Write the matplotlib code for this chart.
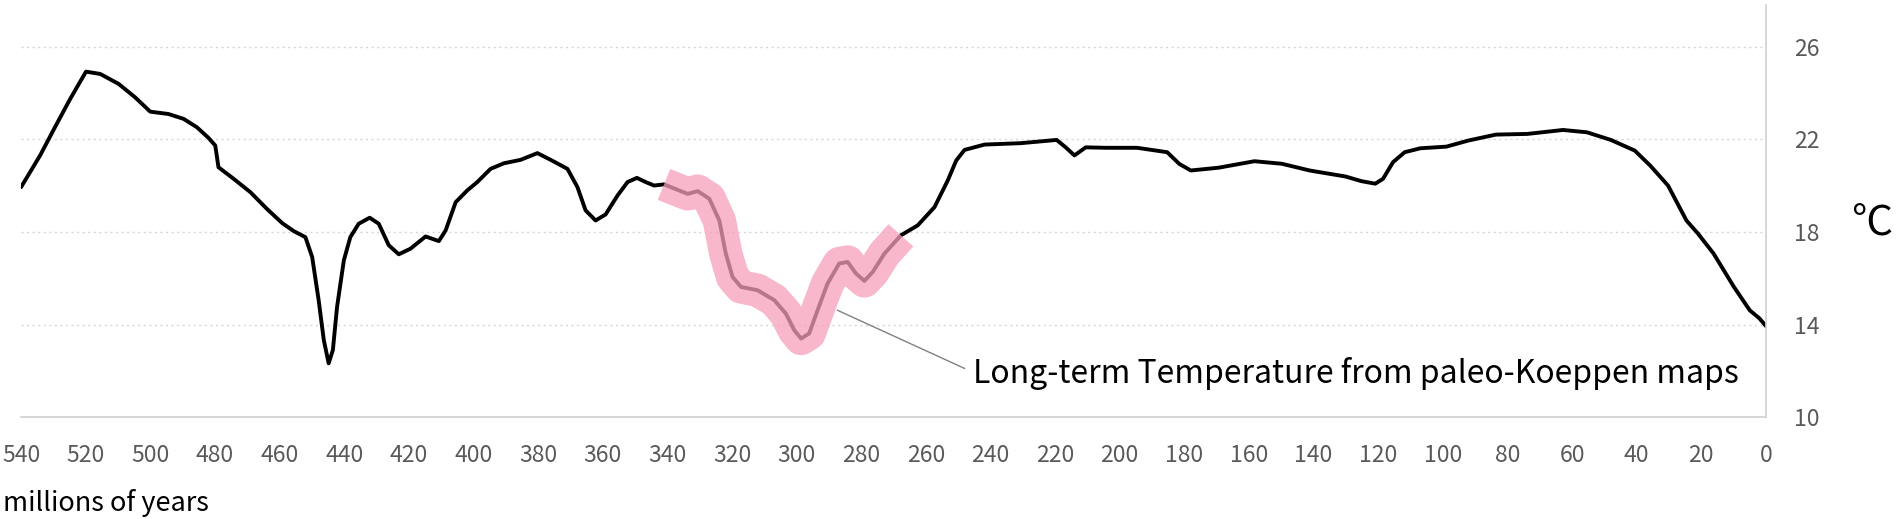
import numpy as np
import matplotlib
matplotlib.use('Agg')
import matplotlib.pyplot as plt

plt.rcParams['font.family'] = ['Noto Sans CJK TC', 'DejaVu Sans']

# millions of years before present, and temperature (deg C)
ages = [540, 534.1, 529.5, 524.8, 519.9, 515.5, 509.8, 504.7, 500.0, 494.4,
        489.7, 485.6, 482.0, 479.9, 478.9, 474.2, 469.0, 463.9, 459.2, 455.6,
        452.0, 449.9, 447.9, 446.3, 444.8, 443.5, 442.2, 440.1, 438.1, 435.5,
        432.1, 429.3, 426.2, 423.1, 419.5, 414.8, 410.7, 408.6, 405.5, 401.9,
        398.8, 394.7, 390.6, 385.4, 380.2, 376.1, 370.9, 367.8, 365.3, 362.2,
        359.1, 355.4, 352.3, 349.4, 346.7, 344.1, 341.0, 338.9, 333.7, 330.6,
        327.0, 323.9, 321.9, 319.8, 317.2, 312.1, 306.9, 303.3, 300.7, 298.6,
        296.1, 293.5, 290.4, 286.8, 284.2, 281.6, 279.0, 276.4, 272.8, 267.7,
        262.5, 257.3, 253.2, 250.6, 248.0, 241.8, 230.6, 219.5, 216.7, 214.0,
        210.5, 204.3, 194.6, 190.2, 185.3, 181.6, 178.0, 169.4, 158.3, 149.8,
        141.2, 130.1, 125.2, 120.9, 118.5, 115.4, 111.8, 106.9, 98.9, 92.2,
        83.6, 73.8, 62.8, 55.4, 48.0, 40.6, 35.8, 30.3, 24.6, 21.0,
        16.2, 9.9, 5.0, 2.0, 0]
temps = [19.94, 21.31, 22.53, 23.75, 24.93, 24.83, 24.40, 23.82, 23.2, 23.1,
         22.89, 22.53, 22.07, 21.74, 20.8, 20.30, 19.72, 19.0, 18.39, 18.04,
         17.78, 16.92, 15.06, 13.33, 12.33, 12.9, 14.77, 16.78, 17.78, 18.36,
         18.62, 18.36, 17.43, 17.04, 17.28, 17.81, 17.61, 18.07, 19.29, 19.80,
         20.16, 20.73, 20.97, 21.12, 21.41, 21.12, 20.73, 19.94, 18.94, 18.50,
         18.76, 19.58, 20.16, 20.34, 20.16, 20.01, 20.06, 19.94, 19.65, 19.77,
         19.44, 18.50, 17.07, 16.06, 15.63, 15.49, 15.06, 14.48, 13.76, 13.40,
         13.62, 14.62, 15.78, 16.64, 16.71, 16.21, 15.89, 16.28, 17.07, 17.86,
         18.29, 19.08, 20.23, 21.09, 21.55, 21.78, 21.84, 21.98, 21.66, 21.31,
         21.66, 21.64, 21.64, 21.55, 21.45, 20.95, 20.66, 20.78, 21.06, 20.95,
         20.66, 20.40, 20.20, 20.09, 20.30, 21.02, 21.45, 21.62, 21.69, 21.95,
         22.21, 22.24, 22.41, 22.31, 21.98, 21.52, 20.87, 20.01, 18.5, 17.93,
         17.07, 15.63, 14.62, 14.27, 13.94]

highlight_from, highlight_to = 341, 266
x_ticks = list(range(540, -1, -20))
y_ticks = [10, 14, 18, 22, 26]
label = 'Long-term Temperature from paleo-Koeppen maps'

ages = np.array(ages)
temps = np.array(temps)

fig = plt.figure(figsize=(18.96, 5.19), dpi=100)
ax = fig.add_axes([0.0111, 0.196, 0.9203, 0.794])

ax.plot(ages, temps, color='black', lw=2.8, solid_joinstyle='round',
        solid_capstyle='round')

# pink marker-pen highlight over the Carboniferous/Permian dip
sel = (ages <= highlight_from) & (ages >= highlight_to)
ax.plot(ages[sel], temps[sel], color='#f69fba', alpha=0.75, lw=24,
        solid_capstyle='butt', solid_joinstyle='round')

# callout
ax.plot([287.3, 248.0], [14.62, 12.11], color='#808080', lw=1)
ax.text(245.5, 11.9, label, fontsize=23, color='black', ha='left', va='center')

ax.set_xlim(540, 0)
ax.set_ylim(10, 27.8)
ax.set_xticks(x_ticks)
ax.set_yticks(y_ticks)
ax.yaxis.tick_right()
ax.tick_params(axis='both', length=0, labelsize=16.5, labelcolor='#595959')
ax.tick_params(axis='x', pad=19)
ax.tick_params(axis='y', pad=20)

for s in ['top', 'left']:
    ax.spines[s].set_visible(False)
for s in ['bottom', 'right']:
    ax.spines[s].set_color('#d0d0d0')
    ax.spines[s].set_linewidth(1.2)

ax.yaxis.grid(True, linestyle=(0, (1.5, 2.5)), color='#d6d6d6', lw=1)
ax.set_axisbelow(True)

fig.text(3 / 1896, 1 - 503 / 519, 'millions of years', fontsize=19.5,
         ha='left', va='center')
fig.text(1851 / 1896, 1 - 223 / 519, '°C', fontsize=30, ha='left',
         va='center', fontweight='light')

fig.savefig('out.png', dpi=100)
